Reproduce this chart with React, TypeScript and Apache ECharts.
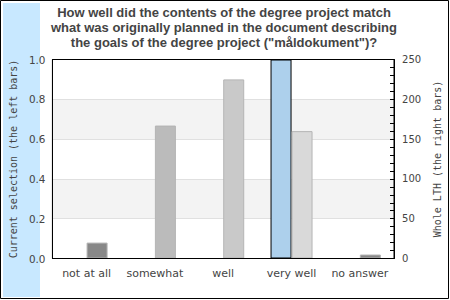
import React, { useEffect, useRef } from "react";
import * as echarts from "echarts";

const titleLines = [
  "How well did the contents of the degree project match",
  "what was originally planned in the document describing",
  'the goals of the degree project ("måldokument")?',
];
const categories = ["not at all", "somewhat", "well", "very well", "no answer"];
const currentSelection = [0, 0, 0, 1.0, 0];
const wholeLTH = [20, 167, 225, 160, 5];
const wholeColors = ["#888888", "#bbbbbb", "#c9c9c9", "#d9d9d9", "#888888"];
const leftTicks = [0, 0.2, 0.4, 0.6, 0.8, 1.0];
const rightTicks = [0, 50, 100, 150, 200, 250];

export default function App() {
  const ref = useRef<HTMLDivElement>(null);
  useEffect(() => {
    document.body.style.margin = "0";
    const chart = echarts.init(ref.current!, null, { renderer: "svg" });
    chart.setOption({
      animation: false,
      backgroundColor: "#ffffff",
      graphic: [
        {
          type: "rect",
          z: -10,
          silent: true,
          shape: { x: 0.5, y: 0.5, width: 448, height: 298 },
          style: { fill: "#ffffff", stroke: "#000000", lineWidth: 1 },
        },
        {
          type: "rect",
          z: -9,
          silent: true,
          shape: { x: 3, y: 3, width: 37, height: 294 },
          style: { fill: "#c8e8ff" },
        },
      ],
      title: {
        text: titleLines.join("\n"),
        left: 224,
        top: 5,
        padding: 0,
        textAlign: "center",
        textStyle: {
          fontFamily: "Liberation Sans",
          fontWeight: "bold",
          fontSize: 13,
          lineHeight: 15,
          color: "#444444",
        },
      },
      grid: {
        left: 40,
        right: 52,
        top: 59.5,
        bottom: 41.5,
        show: true,
        borderColor: "#000000",
        borderWidth: 1,
        backgroundColor: "transparent",
        z: 10,
      },
      xAxis: {
        type: "category",
        data: categories,
        axisLine: { show: true, lineStyle: { color: "#000000" } },
        axisTick: { show: false },
        axisLabel: {
          interval: 0,
          margin: 9,
          fontFamily: "DejaVu Sans",
          fontSize: 11,
          color: "#444444",
        },
      },
      yAxis: [
        {
          type: "value",
          min: leftTicks[0],
          max: leftTicks[leftTicks.length - 1],
          interval: 0.2,
          name: "Current selection (the left bars)",
          nameLocation: "middle",
          nameGap: 26,
          nameTextStyle: {
            fontFamily: "DejaVu Sans Mono",
            fontSize: 10,
            color: "#444444",
          },
          axisLine: { show: true, lineStyle: { color: "#000000" } },
          axisTick: { show: false },
          axisLabel: {
            margin: 7,
            fontFamily: "DejaVu Sans",
            fontSize: 10.4,
            color: "#444444",
            formatter: (v: number) => v.toFixed(1),
          },
          splitLine: { show: true, lineStyle: { color: "#e0e0e0" } },
          splitArea: { show: true, areaStyle: { color: ["#ffffff", "#f3f3f3"] } },
        },
        {
          type: "value",
          position: "right",
          min: rightTicks[0],
          max: rightTicks[rightTicks.length - 1],
          interval: 50,
          name: "Whole LTH (the right bars)",
          nameLocation: "middle",
          nameGap: 33,
          nameTextStyle: {
            fontFamily: "DejaVu Sans Mono",
            fontSize: 10,
            color: "#444444",
          },
          axisLine: { show: true, lineStyle: { color: "#000000" } },
          axisTick: { show: true, inside: true, length: 4, lineStyle: { color: "#000000" } },
          minorTick: { show: true, splitNumber: 5, length: 4, lineStyle: { color: "#000000" } },
          axisLabel: {
            margin: 8,
            fontFamily: "DejaVu Sans",
            fontSize: 10,
            color: "#444444",
          },
          splitLine: { show: false },
        },
      ],
      series: [
        {
          type: "bar",
          yAxisIndex: 0,
          barWidth: 21,
          barGap: "0%",
          data: currentSelection.map((v) => (v === 0 ? null : v)),
          itemStyle: { color: "#add0ec", borderColor: "#000000", borderWidth: 1 },
        },
        {
          type: "bar",
          yAxisIndex: 1,
          barWidth: 21,
          barGap: "0%",
          data: wholeLTH.map((v, i) => ({
            value: v,
            itemStyle: { color: wholeColors[i] },
          })),
          itemStyle: { borderColor: "#b4b4b4", borderWidth: 1 },
        },
      ],
    });
    return () => chart.dispose();
  }, []);
  return <div ref={ref} style={{ width: 450, height: 300 }} />;
}
